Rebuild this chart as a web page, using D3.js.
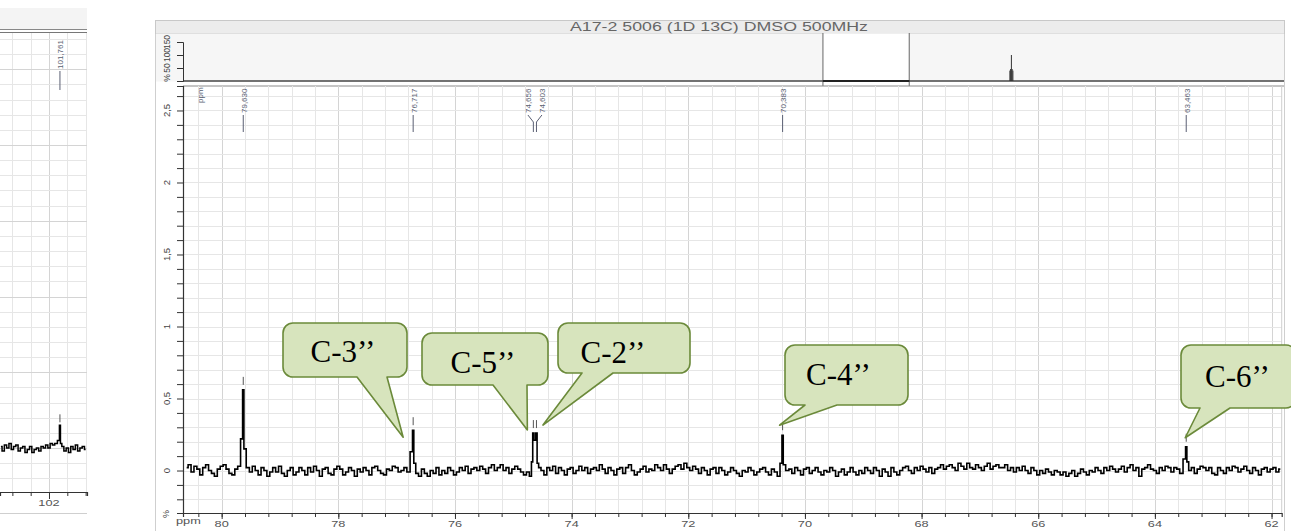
<!DOCTYPE html>
<html>
<head>
<meta charset="utf-8">
<script src="https://cdn.jsdelivr.net/npm/d3@7"></script>
<style>
  html, body { margin: 0; padding: 0; background: #fff; }
  svg { display: block; }
</style>
</head>
<body>
<svg id="chart" width="1291" height="531"></svg>
<script>
// ---------------- data ----------------
const spectrumTitle = "A17-2 5006 (1D 13C) DMSO 500MHz";

// picked peaks of the expanded region (ppm, intensity in %)
const peakPpm   = [79.630, 76.717, 74.656, 74.603, 70.383, 63.463];
const peakLabel = ["79,630", "76,717", "74,656", "74,603", "70,383", "63,463"];
const peakTop   = [0.56, 0.28, 0.26, 0.26, 0.245, 0.165];
const peakLeftShoulder  = [0.22, 0.13, 0.06, 0.21, 0.05, 0.08];
const peakRightShoulder = [0.15, 0.05, 0.21, 0.05, 0.04, 0.06];

// baseline noise of the expanded region, sampled every 0.05 ppm from 80.60 ppm
const baselineStartPpm = 80.60;
const baselineStepPpm = 0.05;
const baselineIntensity = [
  0.02,0.04,-0.01,0.03,0.01,-0.03,0.02,0.04,0.00,-0.02,-0.04,0.01,0.03,0.04,0.01,-0.02,-0.03,0.01,0.03,0.04,
  -0.03,0.02,-0.01,0.03,0.00,-0.03,0.02,0.00,-0.04,-0.01,0.02,-0.01,0.03,-0.02,-0.04,0.00,0.02,-0.03,-0.01,0.02,
  0.00,-0.03,0.02,-0.01,0.03,0.00,-0.04,0.01,0.02,-0.02,-0.03,0.01,0.03,0.01,-0.03,-0.01,0.02,0.00,-0.04,0.01,
  -0.01,0.02,0.00,-0.03,0.02,0.03,0.00,-0.02,-0.03,0.01,0.00,0.03,0.02,-0.01,0.00,0.02,-0.01,0.04,0.01,-0.02,
  -0.04,0.01,-0.02,-0.04,0.00,-0.02,0.02,-0.03,0.00,-0.02,0.02,0.00,-0.03,-0.01,0.02,0.00,0.03,-0.02,0.01,0.02,
  0.00,0.03,0.01,-0.02,0.02,0.04,0.00,0.02,0.04,0.00,0.02,-0.02,0.01,0.03,0.01,-0.01,-0.03,-0.01,-0.04,0.00,
  -0.02,0.02,0.00,-0.03,0.02,0.00,0.03,-0.02,0.02,0.00,-0.03,0.01,0.02,-0.02,0.00,0.03,0.00,0.02,-0.02,0.01,
  0.02,0.00,0.04,0.01,-0.02,0.02,0.00,-0.03,0.01,0.02,-0.02,0.02,0.04,0.00,-0.03,-0.01,0.01,0.03,-0.01,0.01,
  0.00,0.04,0.02,0.00,0.04,0.01,-0.02,0.01,0.03,0.04,0.01,0.05,0.02,0.00,0.03,0.01,-0.02,0.02,0.00,-0.03,
  0.01,0.02,-0.02,0.02,0.00,-0.03,-0.01,0.02,0.00,-0.02,-0.04,0.00,-0.01,0.02,0.00,-0.03,-0.01,0.01,0.02,-0.01,
  -0.03,0.01,-0.01,-0.04,-0.01,0.02,0.00,0.01,-0.02,0.02,0.00,-0.03,0.01,0.02,-0.02,0.00,0.02,-0.01,-0.03,0.00,
  -0.01,0.02,0.00,-0.04,-0.01,0.01,-0.03,-0.01,0.02,-0.01,-0.03,0.00,-0.02,0.02,0.00,-0.02,0.02,0.00,-0.04,0.01,
  -0.01,-0.04,0.02,-0.01,-0.03,0.00,0.02,0.03,0.00,-0.02,0.02,0.00,0.03,0.01,-0.01,0.02,-0.02,0.01,0.02,0.04,
  0.01,0.03,0.04,0.02,0.00,0.05,0.03,0.01,0.05,0.02,0.01,0.04,0.02,0.00,0.03,0.05,0.01,0.03,0.04,0.02,
  0.02,0.04,0.00,0.02,-0.01,0.02,0.00,0.03,0.00,-0.02,0.02,0.00,-0.03,0.00,-0.02,0.01,-0.01,-0.03,0.00,-0.01,
  -0.03,-0.01,-0.04,-0.02,0.00,-0.04,-0.02,0.01,-0.01,-0.03,0.00,-0.01,0.02,0.00,-0.02,0.02,0.00,0.03,0.01,-0.01,
  0.01,0.03,-0.01,0.02,0.04,0.00,0.02,-0.04,0.01,0.02,0.04,0.01,0.00,-0.02,0.02,0.00,0.03,0.02,-0.01,0.02,
  0.01,-0.02,0.02,0.04,0.00,0.02,-0.02,0.01,0.03,0.02,0.00,0.02,-0.02,-0.03,0.02,0.00,-0.02,0.02,0.00,0.03,
  0.02,-0.01,0.01,0.03,0.00,-0.02,0.02,0.00,-0.03,0.01,0.02,-0.01,0.01,0.02,-0.01,0.01
];

// carbon assignments written in the callouts
const assignmentText = ["C-3’’", "C-5’’", "C-2’’", "C-4’’", "C-6’’"];
const assignmentPpm  = [76.717, 74.656, 74.603, 70.383, 63.463];

// axis labels
const xTickLabels = [80, 78, 76, 74, 72, 70, 68, 66, 64, 62];
const yTickValues = [0, 0.5, 1, 1.5, 2, 2.5];
const yTickLabels = ["0", "0,5", "1", "1,5", "2", "2,5"];

// full-range overview: DMSO-d6 solvent multiplet
const overviewPpm = [39.85, 39.69, 39.52, 39.35, 39.19];
const overviewPct = [40, 46, 100, 46, 40];
const overviewTickValues = [50, 100, 150];
const overviewTickLabels = ["50", "100", "150"];

// side expansion around 102 ppm
const sidePeakPpm = 101.761;
const sidePeakLabel = "101,761";
const sidePeakTop = 0.15;
const sidePeakShoulders = [0.05, 0.03];
const sideBaselineStartPpm = 103.05;
const sideBaselineStepPpm = 0.05;
const sideBaselineIntensity = [
  0.01,-0.02,0.02,0.00,0.03,-0.01,0.01,0.02,-0.02,0.00,
  0.01,-0.03,-0.01,0.01,-0.03,-0.01,0.00,-0.02,0.01,0.00,
  0.02,0.00,0.03,0.02,0.03,0.04,0.05,0.01,-0.02,0.00,
  -0.03,0.01,-0.01,0.02,-0.02,0.00,0.01,-0.01
];
const sideTickLabel = 102;

// ---------------- layout ----------------
const sans = "'Liberation Sans', Arial, Helvetica, sans-serif";
const serif = "'Liberation Serif', 'Times New Roman', serif";
const labelInk = "#5a5f73";
const axisInk = "#333";
const gridInk = "#e6e6e6";
const gridMajorInk = "#d4d4d4";

const frame = { left: 155, right: 1284, top: 20 };
const plot = { left: 183, right: 1281.7, top: 86, bottom: 513 };
const strip = { top: 33, bottom: 81 };

const svg = d3.select("#chart");

const x = d3.scaleLinear().domain([80.663, 61.826]).range([plot.left, plot.right]);
const y = d3.scaleLinear().domain([-0.295, 2.670]).range([plot.bottom, plot.top]);
const ox = d3.scaleLinear().domain([226.5, -20]).range([frame.left, frame.right]);
const oy = d3.scaleLinear().domain([0, 150]).range([strip.bottom, 42]);

// ---- outer frame, title band ----
svg.append("rect").attr("x", frame.left + 0.5).attr("y", frame.top + 0.5)
  .attr("width", frame.right - frame.left).attr("height", 531)
  .attr("fill", "#fff").attr("stroke", "#cfcfcf");
svg.append("rect").attr("x", frame.left + 0.5).attr("y", frame.top + 0.5)
  .attr("width", frame.right - frame.left).attr("height", strip.top - frame.top)
  .attr("fill", "#ececec").attr("stroke", "#c8c8c8");
svg.append("text").attr("x", 570).attr("y", 31)
  .attr("font-family", sans).attr("font-size", 12.5).attr("fill", "#666")
  .attr("textLength", 298).attr("lengthAdjust", "spacingAndGlyphs")
  .text(spectrumTitle);

// ---- overview strip ----
svg.append("rect").attr("x", frame.left + 1).attr("y", strip.top + 0.5)
  .attr("width", frame.right - frame.left - 1).attr("height", strip.bottom - strip.top)
  .attr("fill", "#f6f6f6");
const boxL = ox(x.domain()[0]), boxR = ox(x.domain()[1]);
svg.append("rect").attr("x", boxL).attr("y", strip.top + 0.5)
  .attr("width", boxR - boxL).attr("height", strip.bottom - strip.top)
  .attr("fill", "#fff");
[boxL, boxR].forEach(v => svg.append("line")
  .attr("x1", v).attr("x2", v).attr("y1", strip.top).attr("y2", plot.top)
  .attr("stroke", "#666").attr("stroke-width", 1));
svg.append("line").attr("x1", plot.left).attr("x2", frame.right)
  .attr("y1", strip.bottom).attr("y2", strip.bottom)
  .attr("stroke", "#444").attr("stroke-width", 1.5);
svg.append("line").attr("x1", boxL).attr("x2", boxR)
  .attr("y1", strip.bottom).attr("y2", strip.bottom)
  .attr("stroke", "#222").attr("stroke-width", 2);
svg.append("line").attr("x1", plot.left).attr("x2", frame.right)
  .attr("y1", plot.top).attr("y2", plot.top)
  .attr("stroke", "#8a8a8a").attr("stroke-width", 1);

const oAxis = svg.append("g").attr("transform", `translate(${plot.left},0)`)
  .call(d3.axisLeft(oy).tickValues(overviewTickValues).tickSize(6).tickFormat(""));
oAxis.select(".domain").attr("stroke", axisInk);
oAxis.selectAll(".tick line").attr("stroke", axisInk);
overviewTickValues.forEach((v, i) => {
  svg.append("text").attr("transform", `translate(167,${oy(v)}) rotate(-90)`)
    .attr("text-anchor", "middle").attr("dominant-baseline", "central")
    .attr("font-family", sans).attr("font-size", 8.5).attr("fill", "#444")
    .text(overviewTickLabels[i]);
});
svg.append("text").attr("transform", `translate(167,78) rotate(-90)`)
  .attr("text-anchor", "middle").attr("dominant-baseline", "central")
  .attr("font-family", sans).attr("font-size", 8.5).attr("fill", "#444").text("%");

svg.append("g").selectAll("line").data(overviewPpm).join("line")
  .attr("x1", d => ox(d)).attr("x2", d => ox(d))
  .attr("y1", oy(0)).attr("y2", (d, i) => oy(overviewPct[i]))
  .attr("stroke", "#333").attr("stroke-width", 1);

// ---- main plot grid ----
const xMinor = d3.range(0, 47).map(i => +(80.4 - 0.4 * i).toFixed(1));
const yMinor = d3.range(-2, 27).map(i => +(0.1 * i).toFixed(1));
const grid = svg.append("g");
grid.selectAll(".vg").data(xMinor).join("line")
  .attr("x1", d => Math.round(x(d)) + 0.5).attr("x2", d => Math.round(x(d)) + 0.5)
  .attr("y1", plot.top).attr("y2", plot.bottom)
  .attr("stroke", d => Number.isInteger(d) && d % 2 === 0 ? gridMajorInk : gridInk);
grid.selectAll(".hg").data(yMinor).join("line")
  .attr("x1", plot.left).attr("x2", plot.right)
  .attr("y1", d => Math.round(y(d)) + 0.5).attr("y2", d => Math.round(y(d)) + 0.5)
  .attr("stroke", gridInk);
svg.append("line").attr("x1", plot.right).attr("x2", plot.right)
  .attr("y1", plot.top).attr("y2", plot.bottom).attr("stroke", "#cfcfcf");

// ---- axes ----
const xAxisMinor = svg.append("g").attr("transform", `translate(0,${plot.bottom})`)
  .call(d3.axisBottom(x).tickValues(xMinor).tickSize(4).tickFormat(""));
xAxisMinor.select(".domain").attr("stroke", axisInk).attr("stroke-width", 1.2);
xAxisMinor.selectAll(".tick line").attr("stroke", axisInk);
const xAxisMajor = svg.append("g").attr("transform", `translate(0,${plot.bottom})`)
  .call(d3.axisBottom(x).tickValues(xTickLabels).tickSize(6).tickFormat(""));
xAxisMajor.select(".domain").remove();
xAxisMajor.selectAll(".tick line").attr("stroke", axisInk);
xTickLabels.forEach(v => {
  svg.append("text").attr("transform", `translate(${x(v)},${527}) scale(1.5,1)`)
    .attr("text-anchor", "middle").attr("font-family", sans).attr("font-size", 8.5)
    .attr("fill", "#555").text(v);
});
svg.append("text").attr("transform", `translate(176,${524}) scale(1.5,1)`)
  .attr("font-family", sans).attr("font-size", 8.5).attr("fill", "#555").text("ppm");

const yAxis = svg.append("g").attr("transform", `translate(${plot.left},0)`)
  .call(d3.axisLeft(y).tickValues(yMinor).tickSize(6).tickFormat(""));
yAxis.select(".domain").attr("stroke", axisInk).attr("stroke-width", 1.2);
yAxis.selectAll(".tick line").attr("stroke", axisInk);
yTickValues.forEach((v, i) => {
  svg.append("text").attr("transform", `translate(166,${y(v)}) rotate(-90)`)
    .attr("text-anchor", "middle").attr("dominant-baseline", "central")
    .attr("font-family", sans).attr("font-size", 9.5).attr("fill", "#444")
    .text(yTickLabels[i]);
});
svg.append("text").attr("transform", `translate(166,514) rotate(-90)`)
  .attr("text-anchor", "middle").attr("dominant-baseline", "central")
  .attr("font-family", sans).attr("font-size", 9).attr("fill", "#444").text("%");
svg.append("text").attr("transform", `translate(200,103) rotate(-90)`)
  .attr("dominant-baseline", "central")
  .attr("font-family", sans).attr("font-size", 8).attr("fill", labelInk).text("ppm");

// ---- spectrum trace ----
function buildTrace(startPpm, stepPpm, noise, peaks) {
  const pts = noise.map((v, i) => ({ ppm: startPpm - i * stepPpm, v }))
    .filter(p => peaks.every(pk => Math.abs(p.ppm - pk.ppm) > 0.04));
  peaks.forEach(pk => {
    pts.push({ ppm: pk.ppm + 0.022, v: pk.left });
    pts.push({ ppm: pk.ppm, v: pk.top });
    pts.push({ ppm: pk.ppm - 0.022, v: pk.right });
  });
  return pts.sort((a, b) => b.ppm - a.ppm);
}
const mainPeaks = peakPpm.map((p, i) => ({
  ppm: p, top: peakTop[i], left: peakLeftShoulder[i], right: peakRightShoulder[i]
}));
const trace = buildTrace(baselineStartPpm, baselineStepPpm, baselineIntensity, mainPeaks);
svg.append("path").datum(trace)
  .attr("fill", "none").attr("stroke", "#000").attr("stroke-width", 1.6)
  .attr("stroke-linejoin", "miter")
  .attr("d", d3.line().x(d => x(d.ppm)).y(d => y(d.v)).curve(d3.curveStep));

// peak-pick markers above each peak
svg.append("g").selectAll("line").data(mainPeaks).join("line")
  .attr("x1", d => x(d.ppm)).attr("x2", d => x(d.ppm))
  .attr("y1", d => y(d.top) - 5).attr("y2", d => y(d.top) - 13)
  .attr("stroke", "#555").attr("stroke-width", 1);

// peak labels along the top, spread where peaks crowd together
const labelX = peakPpm.map(p => x(p));
for (let i = 0; i < labelX.length - 1; i++) {
  if (Math.abs(labelX[i + 1] - labelX[i]) < 10) {
    const mid = (labelX[i] + labelX[i + 1]) / 2;
    labelX[i] = mid - 7; labelX[i + 1] = mid + 7;
  }
}
const labels = svg.append("g");
peakPpm.forEach((p, i) => {
  const px = x(p), lx = labelX[i];
  labels.append("path")
    .attr("d", `M${lx},115 L${px},122 L${px},132`)
    .attr("fill", "none").attr("stroke", labelInk).attr("stroke-width", 1);
  labels.append("text").attr("transform", `translate(${lx + 1},113) rotate(-90)`)
    .attr("dominant-baseline", "central")
    .attr("font-family", sans).attr("font-size", 8).attr("fill", labelInk)
    .text(peakLabel[i]);
});

// ---- side expansion panel ----
const sx = d3.scaleLinear().domain([103.07, 101.17]).range([0, 87]);
const sy = d3.scaleLinear().domain([-0.29, 2.746]).range([492, 32]);
svg.append("rect").attr("x", 0).attr("y", 8).attr("width", 87).attr("height", 21).attr("fill", "#f4f4f4");
const sideXTicks = [102.8, 102.4, 102.0, 101.6, 101.2];
const sideYTicks = d3.range(-2, 28).map(i => +(0.1 * i).toFixed(1));
svg.append("g").selectAll("line").data(sideXTicks).join("line")
  .attr("x1", d => Math.round(sx(d)) + 0.5).attr("x2", d => Math.round(sx(d)) + 0.5)
  .attr("y1", 32).attr("y2", 492)
  .attr("stroke", d => d === sideTickLabel ? gridMajorInk : gridInk);
svg.append("g").selectAll("line").data(sideYTicks).join("line")
  .attr("x1", 0).attr("x2", 87)
  .attr("y1", d => Math.round(sy(d)) + 0.5).attr("y2", d => Math.round(sy(d)) + 0.5)
  .attr("stroke", d => Math.abs(d * 2 - Math.round(d * 2)) < 1e-6 ? gridMajorInk : gridInk);
svg.append("line").attr("x1", 0).attr("x2", 87).attr("y1", 29.5).attr("y2", 29.5).attr("stroke", "#888");
svg.append("line").attr("x1", 0).attr("x2", 87).attr("y1", 32.5).attr("y2", 32.5).attr("stroke", "#777");
const sAxis = svg.append("g").attr("transform", "translate(0,492)")
  .call(d3.axisBottom(sx).tickValues(sideXTicks).tickSize(4).tickFormat(""));
sAxis.select(".domain").attr("stroke", axisInk).attr("stroke-width", 1.2);
sAxis.selectAll(".tick line").attr("stroke", axisInk)
  .attr("y2", d => d === sideTickLabel ? 7 : 4);
svg.append("text").attr("transform", `translate(${sx(sideTickLabel)},506) scale(1.5,1)`)
  .attr("text-anchor", "middle").attr("font-family", sans).attr("font-size", 8.5)
  .attr("fill", "#555").text(sideTickLabel);
svg.append("line").attr("x1", 0).attr("x2", 87).attr("y1", 513.5).attr("y2", 513.5).attr("stroke", "#cfcfcf");

const sidePeak = [{ ppm: sidePeakPpm, top: sidePeakTop, left: sidePeakShoulders[0], right: sidePeakShoulders[1] }];
const sideTrace = buildTrace(sideBaselineStartPpm, sideBaselineStepPpm, sideBaselineIntensity, sidePeak);
svg.append("path").datum(sideTrace)
  .attr("fill", "none").attr("stroke", "#000").attr("stroke-width", 1.5)
  .attr("d", d3.line().x(d => sx(d.ppm)).y(d => sy(d.v)).curve(d3.curveStep));
svg.append("line").attr("x1", sx(sidePeakPpm)).attr("x2", sx(sidePeakPpm))
  .attr("y1", sy(sidePeakTop) - 3).attr("y2", sy(sidePeakTop) - 11)
  .attr("stroke", "#555");
svg.append("line").attr("x1", sx(sidePeakPpm)).attr("x2", sx(sidePeakPpm))
  .attr("y1", 71).attr("y2", 90).attr("stroke", labelInk);
svg.append("text").attr("transform", `translate(${sx(sidePeakPpm) + 1},69) rotate(-90)`)
  .attr("dominant-baseline", "central")
  .attr("font-family", sans).attr("font-size", 8).attr("fill", labelInk)
  .text(sidePeakLabel);

// ---- assignment callouts ----
// box: [left, top, width, height]; base: pointer root on the box bottom;
// tip: offset from the peak top; text: offset of the caption from the box centre
const calloutLayout = [
  { box: [283, 323, 124, 54], base: [357, 387], tip: [-10, 7], text: [-2, 12] },
  { box: [422, 333, 126, 52], base: [493, 527], tip: [-6, -3], text: [-2, 14] },
  { box: [558, 323, 132, 50], base: [582, 613], tip: [6.5, -8], text: [-11, 15] },
  { box: [785, 345, 123, 60], base: [805, 837], tip: [-3, -10], text: [-8, 10] },
  { box: [1181, 345, 115, 63], base: [1200, 1230], tip: [-1, -9], text: [-1, 10] }
];
function calloutPath(b, base, tx, ty) {
  const [x0, y0, w, h] = b, x1 = x0 + w, y1 = y0 + h, r = 10;
  return `M${x0 + r},${y0} H${x1 - r} A${r},${r} 0 0 1 ${x1},${y0 + r} V${y1 - r}` +
    ` A${r},${r} 0 0 1 ${x1 - r},${y1} H${base[1]} L${tx},${ty} L${base[0]},${y1}` +
    ` H${x0 + r} A${r},${r} 0 0 1 ${x0},${y1 - r} V${y0 + r} A${r},${r} 0 0 1 ${x0 + r},${y0} Z`;
}
const callouts = svg.append("g");
assignmentText.forEach((t, i) => {
  const L = calloutLayout[i];
  const k = peakPpm.indexOf(assignmentPpm[i]);
  const tx = x(assignmentPpm[i]) + L.tip[0];
  const ty = y(peakTop[k]) + L.tip[1];
  callouts.append("path").attr("d", calloutPath(L.box, L.base, tx, ty))
    .attr("fill", "#d7e4bd").attr("stroke", "#6b8a3a").attr("stroke-width", 1.6)
    .attr("stroke-linejoin", "round");
  callouts.append("text")
    .attr("x", L.box[0] + L.box[2] / 2 + L.text[0]).attr("y", L.box[1] + L.box[3] / 2 + L.text[1])
    .attr("text-anchor", "middle").attr("font-family", serif).attr("font-size", 31)
    .attr("fill", "#000").text(t);
});
</script>
</body>
</html>
